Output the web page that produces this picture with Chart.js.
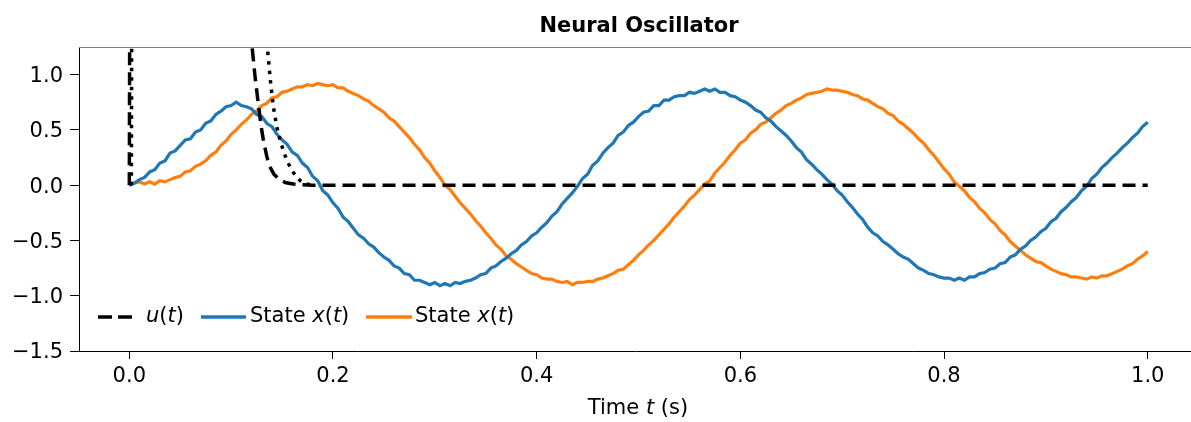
<!DOCTYPE html>
<html><head><meta charset="utf-8">
<script src="https://cdn.jsdelivr.net/npm/chart.js@4.4.1/dist/chart.umd.min.js"></script>
<style>html,body{margin:0;padding:0;background:#fff;}#wrap{width:1191px;height:422px;}</style>
</head><body><div id="wrap"><canvas id="c" width="1191" height="422"></canvas></div>
<script>
// ---- data ----
const times = [0.000,0.005,0.010,0.015,0.020,0.025,0.030,0.035,0.040,0.045,
0.050,0.055,0.060,0.065,0.070,0.075,0.080,0.085,0.090,0.095,
0.100,0.105,0.110,0.115,0.120,0.125,0.130,0.135,0.140,0.145,
0.150,0.155,0.160,0.165,0.170,0.175,0.180,0.185,0.190,0.195,
0.200,0.205,0.210,0.215,0.220,0.225,0.230,0.235,0.240,0.245,
0.250,0.255,0.260,0.265,0.270,0.275,0.280,0.285,0.290,0.295,
0.300,0.305,0.310,0.315,0.320,0.325,0.330,0.335,0.340,0.345,
0.350,0.355,0.360,0.365,0.370,0.375,0.380,0.385,0.390,0.395,
0.400,0.405,0.410,0.415,0.420,0.425,0.430,0.435,0.440,0.445,
0.450,0.455,0.460,0.465,0.470,0.475,0.480,0.485,0.490,0.495,
0.500,0.505,0.510,0.515,0.520,0.525,0.530,0.535,0.540,0.545,
0.550,0.555,0.560,0.565,0.570,0.575,0.580,0.585,0.590,0.595,
0.600,0.605,0.610,0.615,0.620,0.625,0.630,0.635,0.640,0.645,
0.650,0.655,0.660,0.665,0.670,0.675,0.680,0.685,0.690,0.695,
0.700,0.705,0.710,0.715,0.720,0.725,0.730,0.735,0.740,0.745,
0.750,0.755,0.760,0.765,0.770,0.775,0.780,0.785,0.790,0.795,
0.800,0.805,0.810,0.815,0.820,0.825,0.830,0.835,0.840,0.845,
0.850,0.855,0.860,0.865,0.870,0.875,0.880,0.885,0.890,0.895,
0.900,0.905,0.910,0.915,0.920,0.925,0.930,0.935,0.940,0.945,
0.950,0.955,0.960,0.965,0.970,0.975,0.980,0.985,0.990,0.995,1.000];
const stateBlue = [0.00,0.02,0.05,0.07,0.12,0.14,0.20,0.22,0.29,0.31,
0.36,0.41,0.42,0.48,0.50,0.56,0.58,0.64,0.67,0.71,
0.72,0.75,0.72,0.71,0.69,0.64,0.62,0.56,0.53,0.46,
0.41,0.37,0.30,0.27,0.20,0.16,0.08,0.04,-0.05,-0.09,
-0.16,-0.21,-0.29,-0.33,-0.39,-0.45,-0.48,-0.53,-0.56,-0.61,
-0.65,-0.68,-0.73,-0.75,-0.80,-0.81,-0.86,-0.86,-0.88,-0.90,
-0.88,-0.91,-0.89,-0.91,-0.88,-0.89,-0.87,-0.86,-0.84,-0.81,
-0.80,-0.75,-0.73,-0.69,-0.66,-0.62,-0.59,-0.54,-0.51,-0.46,
-0.43,-0.38,-0.34,-0.28,-0.24,-0.17,-0.12,-0.07,-0.01,0.06,
0.10,0.18,0.22,0.29,0.34,0.38,0.45,0.48,0.54,0.57,
0.62,0.66,0.67,0.72,0.72,0.77,0.77,0.80,0.81,0.81,
0.84,0.83,0.85,0.87,0.85,0.87,0.84,0.84,0.81,0.80,
0.77,0.75,0.72,0.68,0.66,0.61,0.58,0.53,0.49,0.45,
0.40,0.34,0.30,0.23,0.19,0.14,0.10,0.05,0.01,-0.05,
-0.09,-0.15,-0.20,-0.26,-0.31,-0.38,-0.43,-0.46,-0.51,-0.54,
-0.58,-0.62,-0.65,-0.67,-0.71,-0.75,-0.77,-0.80,-0.81,-0.83,
-0.84,-0.84,-0.86,-0.84,-0.86,-0.83,-0.83,-0.80,-0.79,-0.76,
-0.75,-0.71,-0.70,-0.65,-0.63,-0.58,-0.55,-0.50,-0.47,-0.42,
-0.39,-0.33,-0.30,-0.24,-0.20,-0.15,-0.11,-0.05,-0.01,0.06,
0.10,0.16,0.20,0.25,0.29,0.34,0.38,0.43,0.47,0.53,0.57];
const stateOrange = [0.00,0.02,0.03,0.01,0.03,0.01,0.04,0.03,0.05,0.07,
0.08,0.12,0.13,0.17,0.19,0.22,0.27,0.30,0.36,0.40,
0.46,0.50,0.55,0.59,0.64,0.67,0.72,0.74,0.79,0.80,
0.84,0.85,0.87,0.89,0.89,0.91,0.90,0.92,0.91,0.90,
0.91,0.88,0.88,0.85,0.83,0.81,0.78,0.76,0.72,0.69,
0.66,0.61,0.58,0.53,0.48,0.43,0.37,0.32,0.25,0.20,
0.13,0.07,0.00,-0.04,-0.10,-0.16,-0.21,-0.26,-0.32,-0.37,
-0.43,-0.48,-0.54,-0.58,-0.64,-0.67,-0.71,-0.74,-0.77,-0.80,
-0.81,-0.84,-0.85,-0.85,-0.87,-0.88,-0.87,-0.90,-0.88,-0.88,
-0.87,-0.87,-0.85,-0.84,-0.82,-0.80,-0.77,-0.76,-0.72,-0.68,
-0.63,-0.59,-0.54,-0.50,-0.45,-0.40,-0.35,-0.29,-0.24,-0.19,
-0.13,-0.09,-0.04,0.01,0.04,0.11,0.16,0.21,0.27,0.32,
0.38,0.41,0.47,0.50,0.55,0.57,0.61,0.65,0.68,0.72,
0.74,0.77,0.79,0.82,0.83,0.84,0.85,0.87,0.86,0.86,
0.85,0.84,0.82,0.81,0.78,0.77,0.74,0.71,0.69,0.65,
0.63,0.58,0.55,0.51,0.47,0.42,0.38,0.32,0.27,0.21,
0.15,0.10,0.03,-0.01,-0.05,-0.11,-0.15,-0.21,-0.25,-0.31,
-0.35,-0.41,-0.45,-0.51,-0.55,-0.59,-0.63,-0.66,-0.69,-0.70,
-0.73,-0.76,-0.78,-0.80,-0.81,-0.83,-0.83,-0.84,-0.85,-0.83,
-0.84,-0.82,-0.82,-0.80,-0.78,-0.76,-0.73,-0.71,-0.67,-0.64,-0.60];
const uTimes  = [0, 0.0008, 0.112, 0.1175, 0.120, 0.1235, 0.127, 0.1295, 0.1316, 0.135, 0.138, 0.142, 0.148, 0.154, 0.161, 0.170, 0.180, 1.0];
const uValues = [0, 3.0,    3.0,   1.70,   1.30,  0.98,   0.71,  0.53,   0.41,   0.26,  0.166, 0.10,  0.045, 0.022, 0.010, 0.003, 0.0,   0.0];
const uDelayTimes  = [0.002, 0.0028, 0.126, 0.132, 0.1355, 0.1385, 0.1414, 0.1448, 0.148, 0.152, 0.156, 0.160, 0.164, 0.168, 0.172, 0.178];
const uDelayValues = [0,     3.0,    3.0,   1.70,  1.25,   0.95,   0.71,   0.53,   0.41,  0.29,  0.20,  0.13,  0.075, 0.04,  0.015, 0.004];
const xTickValues = [0.0, 0.2, 0.4, 0.6, 0.8, 1.0];
const yTickValues = [-1.5, -1.0, -0.5, 0.0, 0.5, 1.0];
const titleText = 'Neural Oscillator';
const xTitleSegs = [{t:'Time ',i:false},{t:'t',i:true},{t:' (s)',i:false}];
const legendItems = [
  {segs:[{t:'u',i:true},{t:'(',i:false},{t:'t',i:true},{t:')',i:false}], color:'#000000', dash:[14,6], x0:98, x1:134, tx:146},
  {segs:[{t:'State ',i:false},{t:'x',i:true},{t:'(',i:false},{t:'t',i:true},{t:')',i:false}], color:'#1f77b4', dash:[], x0:201, x1:246, tx:250},
  {segs:[{t:'State ',i:false},{t:'x',i:true},{t:'(',i:false},{t:'t',i:true},{t:')',i:false}], color:'#ff7f0e', dash:[], x0:366, x1:412, tx:415}
];

// ---- chart ----
const FONT = "'DejaVu Sans'";
const FS = 21;
Chart.defaults.font.family = FONT;
Chart.defaults.color = '#000';
const fmt = v => { const s = Number(v).toFixed(1); return s.replace('-', '\u2212'); };
const pts = (xs, ys) => xs.map((x, i) => ({x: x, y: ys[i]}));

function drawRich(ctx, segs, x, y, size, align) {
  const fN = size + 'px ' + FONT, fI = 'italic ' + size + 'px ' + FONT;
  let w = 0;
  segs.forEach(s => { ctx.font = s.i ? fI : fN; w += ctx.measureText(s.t).width; });
  let cx = align === 'center' ? x - w / 2 : x;
  ctx.textAlign = 'left'; ctx.textBaseline = 'alphabetic'; ctx.fillStyle = '#000';
  segs.forEach(s => { ctx.font = s.i ? fI : fN; ctx.fillText(s.t, cx, y); cx += ctx.measureText(s.t).width; });
}

const decor = {
  id: 'decor',
  afterDraw(chart) {
    const ctx = chart.ctx, a = chart.chartArea;
    ctx.save();
    ctx.strokeStyle = '#808080'; ctx.lineWidth = 1;
    ctx.beginPath(); ctx.moveTo(a.left, a.top + 0.5); ctx.lineTo(a.right, a.top + 0.5); ctx.stroke();
    ctx.fillStyle = '#000'; ctx.font = 'bold ' + FS + 'px ' + FONT; ctx.textAlign = 'center'; ctx.textBaseline = 'alphabetic';
    ctx.fillText(titleText, 639, 32);
    drawRich(ctx, xTitleSegs, 638, 414, FS, 'center');
    legendItems.forEach(it => {
      ctx.strokeStyle = it.color; ctx.lineWidth = 3.5; ctx.setLineDash(it.dash); ctx.lineCap = 'butt';
      ctx.beginPath(); ctx.moveTo(it.x0, 317); ctx.lineTo(it.x1, 317); ctx.stroke();
      ctx.setLineDash([]);
      drawRich(ctx, it.segs, it.tx, 322, FS, 'left');
    });
    ctx.restore();
  }
};

new Chart(document.getElementById('c'), {
  type: 'line',
  data: {
    datasets: [
      {label: 'u(t)', data: pts(uTimes, uValues), borderColor: '#000', borderWidth: 3.5, borderDash: [13, 7], pointRadius: 0, tension: 0, fill: false},
      {label: 'u(t) delayed', data: pts(uDelayTimes, uDelayValues), borderColor: '#000', borderWidth: 3.5, borderDash: [3.5, 6], pointRadius: 0, tension: 0, fill: false},
      {label: 'State x(t)', data: pts(times, stateBlue), borderColor: '#1f77b4', borderWidth: 3.2, pointRadius: 0, tension: 0, fill: false},
      {label: 'State x(t)', data: pts(times, stateOrange), borderColor: '#ff7f0e', borderWidth: 3.2, pointRadius: 0, tension: 0, fill: false}
    ]
  },
  options: {
    responsive: false, animation: false, devicePixelRatio: 1,
    layout: {padding: {top: 47, right: 0, left: 0, bottom: 0}},
    plugins: {legend: {display: false}, title: {display: false}, tooltip: {enabled: false}},
    scales: {
      x: {
        type: 'linear', min: -0.0494, max: 1.0425,
        afterBuildTicks: s => { s.ticks = xTickValues.map(v => ({value: v})); },
        afterFit: s => { s.height = 71; },
        ticks: {callback: v => fmt(v), font: {size: FS}, padding: 5, maxRotation: 0, autoSkip: false, color: '#000'},
        grid: {display: true, drawOnChartArea: false, drawTicks: true, tickLength: 8, color: '#000', lineWidth: 1},
        border: {display: true, color: '#000', width: 1}
      },
      y: {
        type: 'linear', min: -1.5, max: 1.25,
        afterBuildTicks: s => { s.ticks = yTickValues.map(v => ({value: v})); },
        afterFit: s => { s.width = 79; },
        ticks: {callback: v => fmt(v), font: {size: FS}, padding: 7, labelOffset: 2, color: '#000'},
        grid: {display: true, drawOnChartArea: false, drawTicks: true, tickLength: 9, color: '#000', lineWidth: 1},
        border: {display: true, color: '#000', width: 1}
      }
    }
  },
  plugins: [decor]
});
</script></body></html>
